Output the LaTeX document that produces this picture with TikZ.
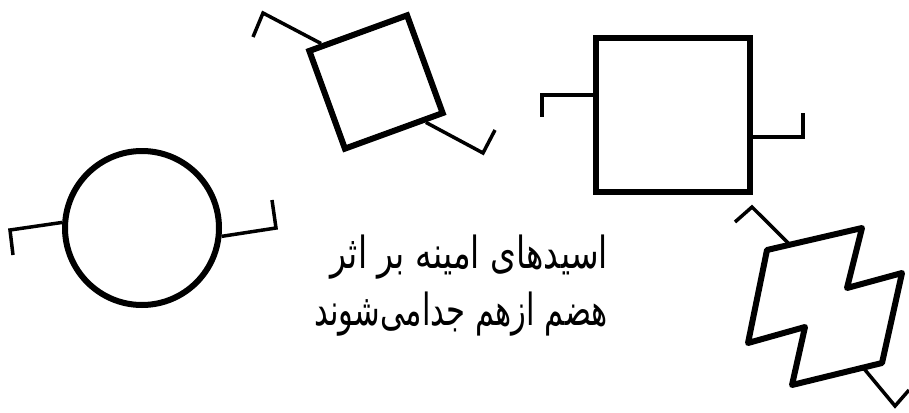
\documentclass[tikz,border=0pt]{standalone}
\usepackage{fontspec}
\usetikzlibrary{calc}
\newfontfamily\arabicfont[Script=Arabic]{DejaVu Sans}
\TeXXeTstate=1

\begin{document}
\begin{tikzpicture}[x=1pt, y=-1pt,
    ring/.style={draw, circle, line width=6pt, minimum size=154pt, inner sep=0pt},
    box/.style={draw, rectangle, line width=6pt, minimum size=#1, inner sep=0pt},
    arm/.style={line width=3.5pt, line join=miter},
    persiantext/.style={inner sep=0pt, font=\arabicfont\fontsize{34}{40}\selectfont}]

  \useasboundingbox (0,0) rectangle (909,412);

  % =======================================================
  % 1. Circle with two arms
  % =======================================================
  \node[ring] (cir) at (142,228) {};
  \coordinate (cirL1) at (10,230);
  \coordinate (cirL2) at (13,255);
  \coordinate (cirR1) at (276,228);
  \coordinate (cirR2) at (272,200);
  \draw[arm] (cir.176) -- (cirL1) -- (cirL2);
  \draw[arm] (cir.-6) -- (cirR1) -- (cirR2);

  % =======================================================
  % 2. Tilted square
  % =======================================================
  \node[box=104pt, rotate=20] (tilt) at (376,82) {};
  \coordinate (tiltL1) at (263,13);
  \coordinate (tiltL2) at (253,37);
  \coordinate (tiltR1) at (483,153);
  \coordinate (tiltR2) at (495,130);
  \draw[arm] (tilt.125) -- (tiltL1) -- (tiltL2);
  \draw[arm] (tilt.-59) -- (tiltR1) -- (tiltR2);

  % =======================================================
  % 3. Upright square
  % =======================================================
  \node[box=154pt] (sq) at (673,115) {};
  \coordinate (sqL1) at (542,95);
  \coordinate (sqL2) at (542,117);
  \coordinate (sqR1) at (803,137);
  \coordinate (sqR2) at (803,113);
  \draw[arm] (sq.west |- sqL1) -- (sqL1) -- (sqL2);
  \draw[arm] (sq.east |- sqR1) -- (sqR1) -- (sqR2);

  % =======================================================
  % 4. Broken (zigzag) piece
  % =======================================================
  \coordinate (zA) at (767,250);
  \coordinate (zB) at (862,228);
  \coordinate (zC) at (847,288);
  \coordinate (zD) at (902,273);
  \coordinate (zE) at (882,363);
  \coordinate (zF) at (792,385);
  \coordinate (zG) at (805,327);
  \coordinate (zH) at (748,343);
  \draw[line width=6pt, line join=round]
    (zA) -- (zB) -- (zC) -- (zD) -- (zE) -- (zF) -- (zG) -- (zH) -- cycle;
  \coordinate (zTop0) at ($(zA)!0.24!(zB)$);
  \coordinate (zTop1) at (752,207);
  \coordinate (zTop2) at (735,222);
  \coordinate (zBot0) at ($(zE)!0.21!(zF)$);
  \coordinate (zBot1) at (895,406);
  \coordinate (zBot2) at (909,390);
  \draw[arm] (zTop0) -- (zTop1) -- (zTop2);
  \draw[arm] (zBot0) -- (zBot1) -- (zBot2);

  % =======================================================
  % 5. Caption
  % =======================================================
  \node[persiantext, anchor=base east] (cap1) at (608,268)
    {\scalebox{0.97}[1.3]{\beginR اسیدهای  امینه بر اثر\endR}};
  \node[persiantext, anchor=base east] (cap2) at (608,325)
    {\scalebox{0.9}[1.3]{\beginR هضم ازهم جدامی‌شوند\endR}};

\end{tikzpicture}
\end{document}
